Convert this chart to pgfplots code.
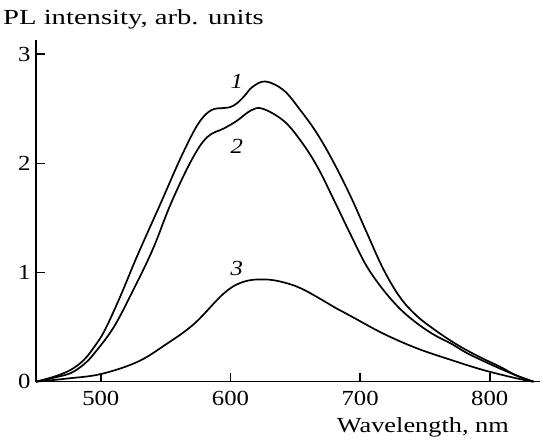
\documentclass[border=0pt]{standalone}
\usepackage{fontspec}
\setmainfont{Liberation Serif}[FakeStretch=1.15]
\usepackage{graphicx}
\usepackage{pgfplots}
\pgfplotsset{compat=1.18}
\begin{document}
\begin{tikzpicture}[font=\fontsize{21.5}{25}\selectfont]
\path[use as bounding box] (-36pt,-61.3pt) rectangle (506pt,381.7pt);
\begin{axis}[
  at={(0,0)}, anchor=south west,
  width=504pt, height=341.7pt, scale only axis,
  xmin=450, xmax=838.8, ymin=0, ymax=3.13,
  axis lines=left, axis line style={-, line width=1.6pt},
  tick style={line width=1.6pt, black}, tick align=inside,
  major tick length=8.5pt,
  xtick={500,600,700,800}, ytick={0,1,2,3},
  /pgf/number format/assume math mode=true,
  xticklabel style={yshift=-5.5pt},
  yticklabel style={xshift=-2pt},
  clip=false,
]
\addplot[black, line width=1.7pt, smooth, tension=0.6, mark=none] coordinates {
(450,0) (465,0.05) (477,0.11) (487,0.20) (495,0.32) (503,0.47) (515,0.78) (528,1.15)
(546,1.63) (562,2.06) (575,2.36) (585,2.486) (595,2.507) (600,2.516) (605,2.55) (611,2.62)
(617,2.70) (627,2.75) (641,2.67) (654,2.486) (667,2.27) (680,2.00) (693,1.69) (705,1.37)
(718,1.03) (731,0.77) (744,0.60) (757,0.48) (770,0.375) (782,0.29) (795,0.21) (808,0.137) (820,0.06) (833,0)};
\addplot[black, line width=1.7pt, smooth, tension=0.6, mark=none] coordinates {
(450,0) (465,0.04) (477,0.08) (487,0.16) (495,0.26) (510,0.50) (525,0.84) (540,1.21)
(554,1.63) (570,2.03) (582,2.24) (595,2.32) (605,2.39) (616,2.486) (625,2.50) (641,2.39)
(654,2.21) (667,1.97) (680,1.66) (693,1.34) (705,1.06) (718,0.84) (731,0.665) (744,0.534) (757,0.43) (770,0.35)
(782,0.265) (795,0.19) (808,0.12) (821,0.055) (834,0)};
\addplot[black, line width=1.7pt, smooth, tension=0.6, mark=none] coordinates {
(450,0) (475,0.03) (500,0.07) (528,0.18) (550,0.34) (572,0.53) (595,0.81) (610,0.915)
(626,0.937) (641,0.91) (657,0.84) (682,0.67) (693,0.60) (718,0.44) (744,0.305) (770,0.20)
(795,0.107) (821,0.03) (834,0)};
\node at (axis cs:605,2.75) {\itshape 1};
\node at (axis cs:605,2.157) {\itshape 2};
\node at (axis cs:605,1.037) {\itshape 3};
\node[anchor=base west, inner sep=0pt] at ([xshift=-33pt,yshift=15pt]rel axis cs:0,1) {\scalebox{1.158}[1]{PL intensity, arb. units}};
\node[anchor=base east, inner sep=0pt] at ([xshift=-31pt,yshift=-51.3pt]rel axis cs:1,0) {\scalebox{1.065}[1]{Wavelength, nm}};
\end{axis}
\end{tikzpicture}
\end{document}
